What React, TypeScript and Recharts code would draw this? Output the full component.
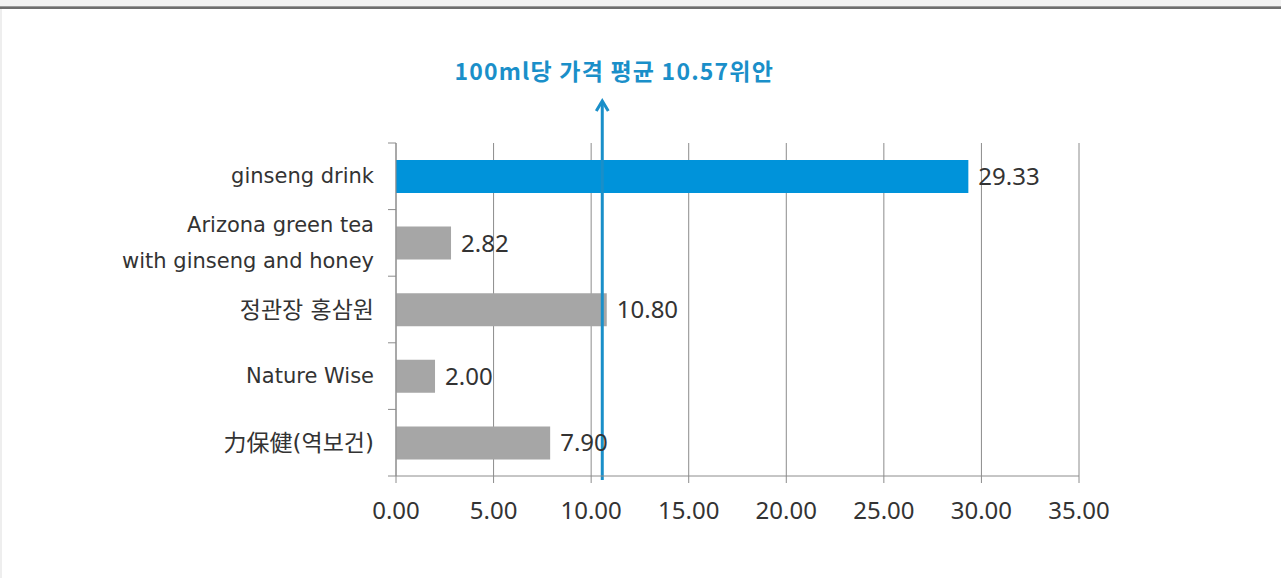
import React from "react";
import {
  BarChart,
  Bar,
  XAxis,
  YAxis,
  CartesianGrid,
  Cell,
  LabelList,
  ReferenceLine,
} from "recharts";

const CATEGORIES = [
  "ginseng drink",
  "Arizona green tea\nwith ginseng and honey",
  "정관장 홍삼원",
  "Nature Wise",
  "力保健(역보건)",
];
const PRICES = [29.33, 2.82, 10.8, 2.0, 7.9];
const HIGHLIGHTED = [true, false, false, false, false];
const X_TICKS = [0, 5, 10, 15, 20, 25, 30, 35];
const AVERAGE = 10.57;
const AVERAGE_TITLE = "100ml당 가격 평균 10.57위안";

const data = CATEGORIES.map((name, i) => ({
  name,
  price: PRICES[i],
  highlighted: HIGHLIGHTED[i],
}));

const BLUE = "#0093DA";
const LINE_BLUE = "#1A8FC9";
const GRAY = "#A6A6A6";
const AXIS = "#8C8C8C";
const TEXT = "#333333";
const CJK = /[\u3131-\uD79D\u4E00-\u9FFF]/;

const CategoryTick = (props: any) => {
  const { x, y, payload, index } = props;
  const lines = String(payload.value).split("\n");
  const lh = 36;
  const start = -((lines.length - 1) * lh) / 2;
  const half = payload.offset || 0;
  const axisX = x + 22;
  const isCjk = CJK.test(String(payload.value));
  return (
    <g>
      <line x1={axisX - 8} x2={axisX} y1={y - half} y2={y - half} stroke={AXIS} />
      {index === CATEGORIES.length - 1 && (
        <line x1={axisX - 8} x2={axisX} y1={y + half} y2={y + half} stroke={AXIS} />
      )}
      <g transform={`translate(${x},${y})`}>
        {lines.map((l, i) => (
          <text
            key={i}
            x={0}
            y={start + i * lh}
            textAnchor="end"
            dominantBaseline="central"
            fill={TEXT}
            style={{
              fontFamily: "'DejaVu Sans', 'Noto Sans CJK KR', sans-serif",
              fontSize: isCjk ? 23 : 21,
            }}
          >
            {l}
          </text>
        ))}
      </g>
    </g>
  );
};

const AverageShape = (props: any) => {
  const { x1, y1, y2 } = props;
  const plotTop = Math.min(y1, y2);
  const plotBottom = Math.max(y1, y2);
  const top = plotTop - 42;
  return (
    <g>
      <line x1={x1} x2={x1} y1={top + 2} y2={plotBottom + 4} stroke={LINE_BLUE} strokeWidth={3} />
      <polyline
        points={`${x1 - 6},${top + 10} ${x1},${top} ${x1 + 6},${top + 10}`}
        fill="none"
        stroke={LINE_BLUE}
        strokeWidth={3}
      />
      <text
        x={x1 + 12}
        y={plotTop - 73}
        textAnchor="middle"
        dominantBaseline="central"
        fill={LINE_BLUE}
        style={{
          fontFamily: "'Noto Sans CJK KR', sans-serif",
          fontSize: 23,
          fontWeight: 700,
          letterSpacing: 1.2,
        }}
      >
        {AVERAGE_TITLE}
      </text>
    </g>
  );
};

export default function App() {
  return (
    <div
      style={{
        position: "fixed",
        left: 0,
        top: 0,
        width: 1281,
        height: 578,
        background: "#ffffff",
        overflow: "hidden",
      }}
    >
      <div style={{ position: "absolute", left: 0, top: 0, width: 1281, height: 6, background: "#f2f2f2" }} />
      <div style={{ position: "absolute", left: 0, top: 6, width: 1281, height: 1, background: "#9a9a9a" }} />
      <div style={{ position: "absolute", left: 0, top: 7, width: 1281, height: 2, background: "#6e6e6e" }} />
      <div style={{ position: "absolute", left: 0, top: 9, width: 2, height: 569, background: "#eeeeee" }} />
      <div style={{ position: "absolute", left: 0, top: 0 }}>
        <BarChart
          width={1281}
          height={578}
          data={data}
          layout="vertical"
          margin={{ top: 143, right: 202, bottom: 0, left: 0 }}
          barSize={33}
        >
          <CartesianGrid horizontal={false} vertical stroke={AXIS} strokeWidth={1} />
          <XAxis
            type="number"
            domain={[0, 35]}
            ticks={X_TICKS}
            interval={0}
            height={102}
            tickSize={7}
            tickMargin={19}
            stroke={AXIS}
            tickFormatter={(v: number) => v.toFixed(2)}
            tick={{ fill: TEXT, fontSize: 24, fontFamily: "'Noto Sans', sans-serif" }}
          />
          <YAxis
            type="category"
            dataKey="name"
            width={396}
            stroke={AXIS}
            tickLine={false}
            tickSize={0}
            tickMargin={22}
            interval={0}
            tick={<CategoryTick />}
          />
          <Bar dataKey="price" isAnimationActive={false}>
            {data.map((d, i) => (
              <Cell key={i} fill={d.highlighted ? BLUE : GRAY} />
            ))}
            <LabelList
              dataKey="price"
              position="right"
              offset={10}
              formatter={(v: any) => Number(v).toFixed(2)}
              fill={TEXT}
              style={{ fontSize: 24, fontFamily: "'Noto Sans', sans-serif" }}
            />
          </Bar>
          <ReferenceLine x={AVERAGE} ifOverflow="visible" shape={<AverageShape />} />
        </BarChart>
      </div>
    </div>
  );
}
